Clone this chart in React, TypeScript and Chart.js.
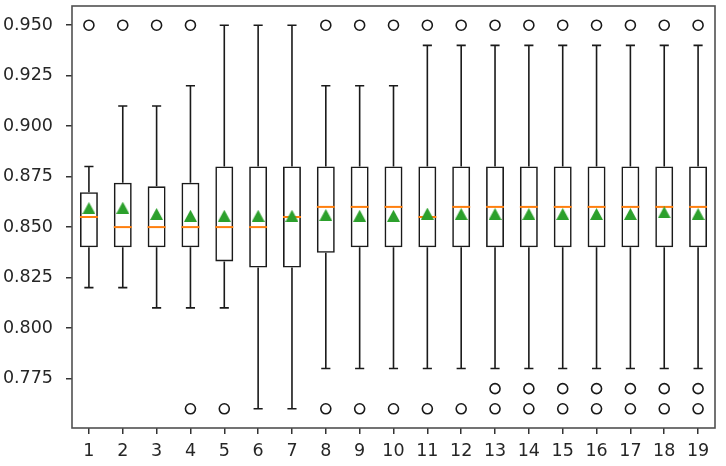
import React, { useEffect, useRef } from "react";
import { Chart, registerables } from "chart.js";
Chart.register(...registerables);

const categories = ["1","2","3","4","5","6","7","8","9","10","11","12","13","14","15","16","17","18","19"];
const q1 = [0.84,0.84,0.84,0.84,0.833,0.83,0.83,0.8373,0.84,0.84,0.84,0.84,0.84,0.84,0.84,0.84,0.84,0.84,0.84];
const q3 = [0.8673,0.872,0.8702,0.872,0.88,0.88,0.88,0.88,0.88,0.88,0.88,0.88,0.88,0.88,0.88,0.88,0.88,0.88,0.88];
const medians = [0.855,0.85,0.85,0.85,0.85,0.85,0.855,0.86,0.86,0.86,0.855,0.86,0.86,0.86,0.86,0.86,0.86,0.86,0.86];
const means = [0.8594,0.8596,0.8565,0.8556,0.8556,0.8556,0.8556,0.856,0.8556,0.8556,0.8567,0.8565,0.8565,0.8565,0.8565,0.8565,0.8565,0.8573,0.8565];
const whiskerLow = [0.82,0.82,0.81,0.81,0.81,0.76,0.76,0.78,0.78,0.78,0.78,0.78,0.78,0.78,0.78,0.78,0.78,0.78,0.78];
const whiskerHigh = [0.88,0.91,0.91,0.92,0.95,0.95,0.95,0.92,0.92,0.92,0.94,0.94,0.94,0.94,0.94,0.94,0.94,0.94,0.94];
const outliers: { x: string; y: number }[] = [
  { x: "1", y: 0.95 }, { x: "2", y: 0.95 }, { x: "3", y: 0.95 },
  { x: "4", y: 0.95 }, { x: "4", y: 0.76 },
  { x: "5", y: 0.76 },
  { x: "8", y: 0.95 }, { x: "8", y: 0.76 },
  { x: "9", y: 0.95 }, { x: "9", y: 0.76 },
  { x: "10", y: 0.95 }, { x: "10", y: 0.76 },
  { x: "11", y: 0.95 }, { x: "11", y: 0.76 },
  { x: "12", y: 0.95 }, { x: "12", y: 0.76 },
  { x: "13", y: 0.95 }, { x: "13", y: 0.77 }, { x: "13", y: 0.76 },
  { x: "14", y: 0.95 }, { x: "14", y: 0.77 }, { x: "14", y: 0.76 },
  { x: "15", y: 0.95 }, { x: "15", y: 0.77 }, { x: "15", y: 0.76 },
  { x: "16", y: 0.95 }, { x: "16", y: 0.77 }, { x: "16", y: 0.76 },
  { x: "17", y: 0.95 }, { x: "17", y: 0.77 }, { x: "17", y: 0.76 },
  { x: "18", y: 0.95 }, { x: "18", y: 0.77 }, { x: "18", y: 0.76 },
  { x: "19", y: 0.95 }, { x: "19", y: 0.77 }, { x: "19", y: 0.76 },
];
const yTicks = [0.775, 0.8, 0.825, 0.85, 0.875, 0.9, 0.925, 0.95];
const yMin = 0.7505;
const yMax = 0.9595;

const LINE = "#1a1a1a";

function makeTriangle(w: number, h: number, color: string) {
  const c = document.createElement("canvas");
  c.width = w;
  c.height = h;
  const ctx = c.getContext("2d")!;
  ctx.fillStyle = color;
  ctx.beginPath();
  ctx.moveTo(w / 2, 0);
  ctx.lineTo(w, h);
  ctx.lineTo(0, h);
  ctx.closePath();
  ctx.fill();
  return c;
}

const whiskerPlugin = {
  id: "whiskers",
  beforeDatasetsDraw(chart: any) {
    const { ctx, scales } = chart;
    const x = scales.x, y = scales.y;
    const step = x.getPixelForValue(1) - x.getPixelForValue(0);
    const capHalf = step * 0.135;
    ctx.save();
    ctx.strokeStyle = LINE;
    ctx.lineWidth = 1.6;
    categories.forEach((_, i) => {
      const px = x.getPixelForValue(i);
      const pairs = [[q1[i], whiskerLow[i]], [q3[i], whiskerHigh[i]]];
      pairs.forEach(([a, b]) => {
        const pa = y.getPixelForValue(a);
        const pb = y.getPixelForValue(b);
        ctx.beginPath();
        ctx.moveTo(px, pa);
        ctx.lineTo(px, pb);
        ctx.moveTo(px - capHalf, pb);
        ctx.lineTo(px + capHalf, pb);
        ctx.stroke();
      });
    });
    ctx.restore();
  },
  afterDraw(chart: any) {
    const { ctx, chartArea } = chart;
    ctx.save();
    ctx.strokeStyle = "#505050";
    ctx.lineWidth = 1.6;
    ctx.strokeRect(chartArea.left, chartArea.top, chartArea.right - chartArea.left, chartArea.bottom - chartArea.top);
    ctx.restore();
  },
};

export default function App() {
  const ref = useRef<HTMLCanvasElement | null>(null);
  useEffect(() => {
    if (!ref.current) return;
    const tri = makeTriangle(13, 12, "#2ca02c");
    const font = { family: "'DejaVu Sans'", size: 17.5 };
    const chart = new Chart(ref.current, {
      type: "bar",
      data: {
        labels: categories,
        datasets: [
          {
            type: "line",
            data: means,
            showLine: false,
            pointStyle: tri as any,
            pointRadius: 6,
            borderWidth: 0,
          } as any,
          {
            type: "line",
            data: medians,
            showLine: false,
            pointStyle: "line",
            pointRadius: 9,
            pointBorderWidth: 2,
            pointBorderColor: "#ff7f0e",
            borderColor: "#ff7f0e",
          } as any,
          {
            type: "line",
            data: outliers as any,
            showLine: false,
            pointStyle: "circle",
            pointRadius: 5,
            pointBorderWidth: 1.6,
            pointBorderColor: LINE,
            pointBackgroundColor: "rgba(0,0,0,0)",
          } as any,
          {
            type: "bar",
            data: categories.map((_, i) => [q1[i], q3[i]]),
            backgroundColor: "rgba(0,0,0,0)",
            borderColor: LINE,
            borderWidth: 1.6,
            borderSkipped: false,
            categoryPercentage: 1,
            barPercentage: 0.53,
            grouped: false,
          } as any,
        ],
      },
      options: {
        animation: false,
        responsive: true,
        maintainAspectRatio: false,
        events: [],
        layout: { padding: { top: 1, right: 6, left: 0, bottom: 0 } },
        plugins: { legend: { display: false }, tooltip: { enabled: false } },
        scales: {
          x: {
            type: "category",
            offset: true,
            border: { display: false },
            grid: { display: true, drawOnChartArea: false, drawTicks: true, tickLength: 6, offset: false, color: "#333", lineWidth: 1.5 },
            ticks: { color: "#262626", font, padding: 7, maxRotation: 0, autoSkip: false },
            afterFit: (s: any) => { s.height = 38; s.paddingLeft = 0; s.paddingRight = 0; },
          },
          y: {
            type: "linear",
            min: yMin,
            max: yMax,
            border: { display: false },
            grid: { display: true, drawOnChartArea: false, drawTicks: true, tickLength: 6, color: "#333", lineWidth: 1.5 },
            ticks: { color: "#262626", font, padding: 13, callback: (v: any) => Number(v).toFixed(3) },
            afterBuildTicks: (s: any) => { s.ticks = yTicks.map((v) => ({ value: v })); },
            afterFit: (s: any) => { s.width = 72; s.paddingTop = 0; s.paddingBottom = 0; },
          },
        },
      },
      plugins: [whiskerPlugin],
    } as any);
    return () => chart.destroy();
  }, []);
  return (
    <div style={{ position: "fixed", left: 0, top: -5, width: 726, height: 471, background: "#fff" }}>
      <canvas ref={ref} />
    </div>
  );
}
